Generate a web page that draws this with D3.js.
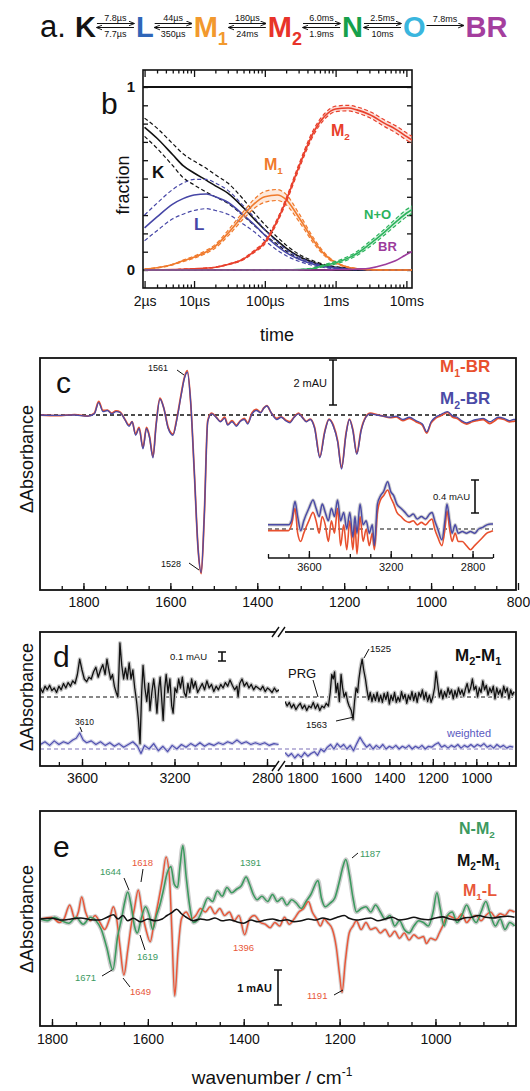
<!DOCTYPE html>
<html>
<head>
<meta charset="utf-8">
<script src="https://d3js.org/d3.v7.min.js"></script>
<style>
  body { margin: 0; background: #fff; }
  svg text { font-family: "Liberation Sans", Arial, Helvetica, sans-serif; }
</style>
</head>
<body>
<div id="fig"></div>
<script>
// ---------------- data ----------------
// panel a: kinetic scheme
const species = ["K", "L", "M1", "M2", "N", "O", "BR"];
const rateFwd = ["7.8µs", "44µs", "180µs", "6.0ms", "2.5ms", "7.8ms"];
const rateBack = ["7.7µs", "350µs", "24ms", "1.9ms", "10ms", null];

// panel b: fractions vs time (s)
const bTimes = [2e-6,3e-6,5e-6,7e-6,1e-5,1.5e-5,2e-5,3e-5,5e-5,7e-5,1e-4,1.5e-4,2e-4,3e-4,5e-4,7e-4,1e-3,1.5e-3,2e-3,3e-3,5e-3,7e-3,1e-2,1.2e-2];
const bK    = [0.78,0.72,0.63,0.57,0.53,0.49,0.46,0.42,0.34,0.28,0.22,0.16,0.12,0.075,0.04,0.025,0.015,0.008,0.004,0.002,0,0,0,0];
const bKerr = [0.05,0.055,0.06,0.065,0.065,0.065,0.06,0.055,0.045,0.035,0.028,0.02,0.016,0.012,0.008,0.005,0.003,0.002,0.001,0,0,0,0,0];
const bL    = [0.23,0.29,0.36,0.39,0.41,0.415,0.40,0.37,0.30,0.25,0.19,0.13,0.095,0.06,0.03,0.018,0.01,0.005,0.003,0.001,0,0,0,0];
const bLerr = [0.07,0.075,0.08,0.085,0.085,0.08,0.075,0.065,0.05,0.04,0.03,0.022,0.017,0.012,0.007,0.005,0.003,0.002,0.001,0,0,0,0,0];
const bM1   = [0.005,0.012,0.03,0.05,0.07,0.10,0.13,0.20,0.30,0.36,0.40,0.41,0.385,0.29,0.155,0.085,0.04,0.015,0.007,0.002,0,0,0,0];
const bM1err= [0,0.001,0.002,0.004,0.006,0.008,0.01,0.015,0.02,0.025,0.03,0.03,0.028,0.022,0.014,0.008,0.004,0.002,0.001,0,0,0,0,0];
const bM2   = [0,0.001,0.002,0.004,0.006,0.01,0.015,0.03,0.06,0.10,0.15,0.27,0.38,0.56,0.76,0.84,0.88,0.885,0.875,0.85,0.80,0.77,0.73,0.71];
const bM2err= [0,0,0,0,0,0,0.001,0.002,0.004,0.006,0.008,0.01,0.012,0.014,0.015,0.015,0.015,0.015,0.016,0.017,0.018,0.019,0.02,0.02];
const bNO   = [0,0,0,0,0,0,0,0,0,0,0,0,0,0.002,0.01,0.025,0.04,0.065,0.09,0.14,0.21,0.26,0.31,0.33];
const bNOerr= [0,0,0,0,0,0,0,0,0,0,0,0,0,0.001,0.003,0.005,0.007,0.009,0.011,0.014,0.016,0.018,0.02,0.02];
const bBR   = [0,0,0,0,0,0,0,0,0,0,0,0,0,0,0,0,0.001,0.002,0.005,0.01,0.03,0.05,0.085,0.10];
const bTickVals = [2e-6, 1e-5, 1e-4, 1e-3, 1e-2];
const bTickText = ["2µs", "10µs", "100µs", "1ms", "10ms"];

// panel c: difference spectra (mAU)
const cWn = [1900,1860,1820,1790,1775,1765,1755,1745,1735,1725,1715,1705,1695,1688,1680,1672,1663,1655,1648,1640,1633,1624,1615,1605,1594,1585,1575,1568,1561,1553,1545,1536,1529,1522,1514,1505,1495,1485,1475,1468,1458,1448,1440,1430,1422,1412,1402,1392,1385,1378,1368,1355,1345,1335,1325,1315,1305,1297,1287,1278,1268,1256,1245,1235,1225,1215,1206,1196,1188,1180,1171,1161,1150,1140,1125,1110,1095,1080,1065,1050,1035,1020,1010,1000,990,980,970,962,950,940,930,918,905,895,880,865,855,845,832,820,810,800];
const cM2BR = [0,-0.02,0,-0.05,0.05,0.55,0.15,0.2,0.05,0.15,0.1,-0.2,-0.5,-0.3,-0.9,-0.6,-1.5,-0.6,-1.0,-1.9,-0.5,0.7,0.3,-0.6,-0.9,-0.2,0.9,1.6,1.9,0.5,-2.5,-6.0,-7.0,-4.5,-0.3,0.05,-0.1,-0.3,-0.15,-0.45,-0.3,-0.5,-0.3,-0.2,-0.4,0.05,0.2,0.1,0.3,0.4,0.1,-0.2,-0.1,-0.25,-0.35,-0.1,0.05,-0.1,-0.3,-0.2,-0.6,-1.9,-0.8,-0.2,-0.5,-1.2,-2.4,-0.9,-0.2,-0.7,-1.75,-0.7,-0.1,0.05,0,-0.05,-0.1,-0.05,-0.2,-0.1,-0.25,-0.4,-0.75,-0.3,-0.1,0,0.1,0.15,-0.05,-0.1,-0.25,-0.35,-0.25,-0.2,-0.15,-0.3,-0.2,-0.1,-0.15,-0.25,-0.2,-0.2];
const cM1BR = [0,-0.03,0.02,-0.05,0.08,0.6,0.2,0.22,0.08,0.18,0.12,-0.18,-0.45,-0.3,-0.85,-0.55,-1.45,-0.55,-0.95,-1.85,-0.45,0.75,0.3,-0.55,-0.85,-0.15,0.95,1.65,1.97,0.5,-2.5,-6.0,-7.05,-4.5,-0.25,0.08,-0.08,-0.28,-0.1,-0.42,-0.25,-0.45,-0.28,-0.15,-0.35,0.1,0.25,0.12,0.32,0.42,0.1,-0.15,-0.08,-0.22,-0.3,-0.08,0.08,-0.08,-0.28,-0.18,-0.55,-1.85,-0.75,-0.18,-0.45,-1.15,-2.35,-0.85,-0.18,-0.65,-1.7,-0.65,-0.08,0.08,0.02,-0.05,-0.12,-0.08,-0.25,-0.15,-0.3,-0.45,-0.8,-0.35,-0.15,-0.05,0.05,0.12,-0.1,-0.15,-0.3,-0.4,-0.3,-0.25,-0.2,-0.38,-0.28,-0.15,-0.2,-0.3,-0.28,-0.25];
const cInsetWn = [3800,3750,3700,3685,3668,3655,3640,3625,3600,3580,3565,3550,3535,3520,3505,3490,3475,3460,3445,3430,3415,3400,3385,3375,3365,3350,3335,3320,3305,3290,3280,3265,3250,3235,3215,3200,3185,3170,3150,3130,3110,3090,3070,3050,3030,3010,2998,2985,2970,2950,2935,2925,2912,2900,2885,2870,2850,2830,2810,2790,2770,2750,2730,2710,2700];
const cInsetM2BR = [0.05,0.05,0.05,0.1,0.33,0.15,-0.02,0.1,0.25,0.35,0.25,0.15,0.3,0.2,0.1,0.25,0.15,0.35,0.1,0.2,0,0.2,-0.1,0.15,-0.05,0.3,0.05,0.1,-0.05,0.05,-0.2,0.3,0.4,0.45,0.57,0.45,0.4,0.3,0.25,0.2,0.15,0.18,0.12,0.15,0.12,0.18,0.2,0.1,0,-0.13,0.1,0.3,0.1,-0.05,0.05,-0.05,-0.03,-0.05,-0.03,-0.05,0,0.02,0.05,0.06,0.06];
const cInsetM1BR = [-0.02,-0.02,-0.02,0.05,0.25,-0.05,-0.15,-0.05,0.1,0.2,0.1,-0.05,0.15,0.05,-0.15,0.1,-0.05,0.25,-0.2,0.05,-0.25,0.1,-0.25,0.05,-0.3,0.15,-0.15,0,-0.2,-0.05,-0.25,0.2,0.35,0.4,0.47,0.38,0.3,0.2,0.15,0.1,0.08,0.1,0.05,0.08,0.05,0.1,0.12,0,-0.1,-0.2,0,0.22,0,-0.15,-0.05,-0.15,-0.15,-0.2,-0.25,-0.2,-0.15,-0.1,-0.05,-0.03,-0.02];

// panel d: M2-M1 (mAU), [wavenumber, value]
const dLeftBlack = [[3780,0.10],[3770,0.05],[3760,0.12],[3750,0.08],[3740,0.13],[3730,0.07],[3720,0.1],[3710,0.05],[3700,0.12],[3690,0.08],[3680,0.15],[3670,0.1],[3660,0.16],[3650,0.12],[3640,0.18],[3630,0.15],[3620,0.25],[3610,0.42],[3600,0.3],[3590,0.2],[3580,0.17],[3570,0.22],[3560,0.2],[3550,0.28],[3540,0.33],[3530,0.22],[3520,0.3],[3510,0.36],[3500,0.25],[3492,0.42],[3484,0.3],[3476,0.2],[3468,0.25],[3460,0.12],[3452,0.05],[3445,0],[3440,0.3],[3436,0.6],[3428,0.35],[3420,0.2],[3412,0.32],[3404,0.2],[3396,0.38],[3388,0.2],[3380,0.3],[3372,0.1],[3364,-0.05],[3356,-0.25],[3349,-0.52],[3342,0.05],[3336,0.35],[3328,0.1],[3320,-0.05],[3312,0.15],[3306,-0.15],[3298,0.05],[3290,0.2],[3284,0.08],[3276,-0.18],[3268,0.1],[3262,0.22],[3256,0],[3249,-0.26],[3242,0.1],[3236,0.25],[3228,0.05],[3220,0.2],[3212,-0.1],[3206,-0.18],[3198,0.1],[3190,0.05],[3182,0.2],[3174,0.1],[3166,0.22],[3158,0.05],[3150,0],[3142,0.15],[3134,0.05],[3126,0.2],[3118,0.1],[3110,0.17],[3100,0.05],[3090,0.1],[3080,0.15],[3070,0.08],[3060,0.18],[3050,0.1],[3040,0.14],[3030,0.06],[3020,0.12],[3010,0.08],[3000,0.14],[2990,0.1],[2980,0.16],[2970,0.12],[2960,0.19],[2950,0.13],[2940,0.08],[2930,0.12],[2925,0],[2918,0.15],[2908,0.2],[2898,0.12],[2888,0.16],[2878,0.1],[2868,0.14],[2858,0.08],[2848,0.12],[2838,0.1],[2828,0.08],[2818,0.12],[2808,0.06],[2798,0.1],[2788,0.08],[2778,0.05],[2768,0.1],[2758,0.06],[2748,0.08]];
const dLeftBlue = [[3780,0.05],[3760,0.08],[3740,0.04],[3720,0.09],[3700,0.05],[3680,0.08],[3660,0.06],[3640,0.1],[3625,0.12],[3610,0.18],[3595,0.1],[3580,0.07],[3560,0.09],[3540,0.05],[3520,0.08],[3500,0.04],[3480,0.07],[3460,0.03],[3440,0.06],[3420,0.02],[3400,0.05],[3380,0.08],[3360,0.03],[3345,-0.05],[3330,0.04],[3310,0],[3290,0.06],[3270,-0.02],[3250,0.03],[3230,-0.03],[3210,0.04],[3190,0],[3170,0.05],[3150,0.02],[3130,0.06],[3110,0.03],[3090,0.07],[3070,0.03],[3050,0.06],[3030,0.04],[3010,0.07],[2990,0.05],[2970,0.08],[2950,0.06],[2930,0.1],[2910,0.06],[2890,0.08],[2870,0.05],[2850,0.07],[2830,0.05],[2810,0.07],[2790,0.04],[2770,0.06],[2750,0.05]];
const dRightBlack = [[1880,-0.05],[1870,-0.1],[1860,-0.06],[1850,-0.12],[1840,-0.08],[1830,-0.14],[1820,-0.1],[1810,-0.07],[1800,-0.13],[1790,-0.09],[1780,-0.15],[1770,-0.1],[1760,-0.12],[1750,-0.06],[1740,-0.13],[1730,-0.08],[1720,-0.15],[1710,-0.1],[1700,-0.12],[1690,-0.07],[1680,-0.1],[1672,0.05],[1665,0.25],[1658,0.2],[1652,0.28],[1645,0.05],[1638,0.15],[1630,-0.05],[1622,0.25],[1615,0.1],[1608,0],[1600,0.05],[1592,-0.05],[1585,-0.1],[1575,-0.15],[1567,-0.25],[1560,-0.05],[1553,0.1],[1546,0.05],[1540,0.2],[1533,0.32],[1525,0.42],[1518,0.3],[1510,0.2],[1503,0.08],[1495,-0.03],[1488,0.05],[1480,-0.05],[1472,0.03],[1464,-0.04],[1456,0.05],[1448,-0.05],[1440,0.02],[1432,-0.06],[1424,0.04],[1416,-0.03],[1408,0.05],[1400,-0.08],[1392,0.02],[1384,-0.04],[1376,0.05],[1368,-0.06],[1360,0],[1352,-0.05],[1344,0.06],[1336,-0.02],[1328,0.03],[1320,-0.07],[1312,0.02],[1304,-0.03],[1296,0.06],[1288,-0.04],[1280,0.04],[1272,-0.06],[1264,0.05],[1256,0],[1248,0.08],[1240,-0.03],[1232,0.05],[1224,-0.05],[1216,0.02],[1208,-0.06],[1200,0],[1192,0.1],[1185,0.28],[1178,0.15],[1170,0],[1162,0.08],[1154,-0.02],[1146,0.06],[1138,0],[1130,0.1],[1122,0.03],[1114,0.08],[1106,-0.02],[1098,0.07],[1090,0],[1082,0.1],[1074,0.03],[1066,0.08],[1058,0.01],[1050,0.09],[1042,0.15],[1034,0.05],[1026,0.1],[1018,0.2],[1010,0.08],[1002,0.12],[994,0],[986,0.1],[978,0.05],[970,0.18],[962,0.08],[954,0.13],[946,0.02],[938,0.1],[930,0.05],[922,0.12],[914,-0.02],[906,0.1],[898,0.03],[890,0.08],[882,0],[874,0.12],[866,0.05],[858,0.1],[850,-0.02],[842,0.08],[834,0.02],[826,0.06]];
const dRightBlue = [[1880,-0.04],[1865,-0.08],[1850,-0.05],[1835,-0.1],[1820,-0.06],[1805,-0.09],[1790,-0.04],[1775,-0.08],[1760,-0.05],[1745,-0.03],[1730,-0.07],[1715,0],[1700,-0.03],[1685,0.02],[1670,0.05],[1655,0],[1640,0.06],[1625,0.02],[1610,0.05],[1595,0],[1580,0.04],[1565,-0.02],[1550,0.06],[1535,0.13],[1520,0.07],[1505,0.02],[1490,0.05],[1475,0],[1460,0.04],[1445,0.01],[1430,0.05],[1415,0],[1400,0.03],[1385,0.01],[1370,0.04],[1355,0],[1340,0.03],[1325,0.01],[1310,0.04],[1295,0],[1280,0.03],[1265,0.01],[1250,0.04],[1235,0],[1220,0.03],[1205,0.02],[1190,0.05],[1175,0.07],[1160,0.02],[1145,0.04],[1130,0.01],[1115,0.04],[1100,0.02],[1085,0.05],[1070,0.01],[1055,0.04],[1040,0.02],[1025,0.05],[1010,0.02],[995,0.05],[980,0.03],[965,0.06],[950,0.02],[935,0.04],[920,0.01],[905,0.05],[890,0.02],[875,0.04],[860,0.01],[845,0.03],[830,0.02]];

// panel e: (mAU), [wavenumber, value]
const eNM2 = [[1825,0],[1810,-0.05],[1795,0.05],[1780,-0.05],[1765,-0.12],[1750,0.05],[1735,-0.15],[1720,0.05],[1708,-0.05],[1697,-0.3],[1686,-0.8],[1673,-1.45],[1663,-0.5],[1655,0],[1648,0.5],[1642,0.77],[1635,0.4],[1628,-0.2],[1622,-0.4],[1614,0],[1605,0.35],[1597,0.1],[1590,-0.3],[1582,0.1],[1575,0.4],[1568,0.8],[1560,1.3],[1552,1.5],[1545,1.0],[1538,0.9],[1533,1.5],[1527,2.1],[1520,1.2],[1513,0.4],[1505,-0.1],[1495,0],[1485,0.3],[1475,0.6],[1465,0.5],[1455,0.8],[1445,0.65],[1435,0.9],[1425,0.75],[1415,0.85],[1405,0.95],[1395,1.2],[1388,1.0],[1380,0.7],[1372,0.55],[1362,0.65],[1350,0.5],[1340,0.7],[1330,0.5],[1320,0.6],[1310,0.4],[1300,0.55],[1290,0.45],[1280,0.3],[1270,0.5],[1260,0.7],[1245,1.1],[1238,0.6],[1230,0.35],[1220,0.45],[1210,0.6],[1200,1.1],[1193,1.5],[1187,1.7],[1180,1.3],[1172,0.6],[1165,0.2],[1155,0.3],[1145,0.35],[1135,0.2],[1125,0.4],[1115,0.2],[1105,0],[1095,0.1],[1085,-0.2],[1075,-0.05],[1065,-0.3],[1055,-0.4],[1045,-0.2],[1035,-0.05],[1025,-0.1],[1015,-0.2],[1005,0.2],[997,0.75],[990,0.3],[982,-0.2],[975,0.1],[965,0.2],[955,-0.1],[945,0.1],[935,0.4],[925,0.1],[915,-0.1],[905,0.2],[895,0.5],[885,0.1],[875,-0.2],[865,0],[855,-0.3],[845,-0.1],[835,-0.2]];
const eM1L = [[1825,0],[1800,0.05],[1785,-0.1],[1775,0],[1763,0.4],[1752,0],[1745,0.2],[1738,0.63],[1730,0.2],[1720,-0.05],[1710,0.1],[1700,-0.1],[1690,-0.3],[1680,0],[1672,0.35],[1665,0],[1658,-0.8],[1650,-1.6],[1642,-0.9],[1635,-0.2],[1628,0.3],[1620,0.83],[1612,0.2],[1604,-0.3],[1595,-0.65],[1588,-0.2],[1578,0.5],[1570,1.1],[1562,1.77],[1555,1.2],[1550,-0.3],[1544,-2.2],[1537,-0.9],[1530,0],[1520,0.2],[1510,0],[1500,0.1],[1490,0.3],[1480,0.2],[1470,0.35],[1460,0.15],[1450,0.3],[1440,0.1],[1430,0.2],[1420,-0.05],[1410,0.1],[1398,-0.45],[1388,0],[1378,0.1],[1365,-0.1],[1355,-0.15],[1345,-0.25],[1335,-0.1],[1325,-0.2],[1315,0.05],[1305,-0.15],[1295,0],[1285,0.2],[1275,0.3],[1265,0.5],[1257,0.2],[1248,0],[1240,-0.2],[1232,0],[1225,-0.1],[1215,-0.3],[1207,-0.8],[1200,-1.6],[1195,-2.1],[1188,-1.2],[1180,-0.4],[1172,-0.2],[1165,-0.05],[1155,-0.3],[1145,-0.1],[1135,-0.3],[1125,-0.25],[1115,-0.4],[1105,-0.3],[1095,-0.5],[1085,-0.35],[1075,-0.55],[1065,-0.4],[1055,-0.6],[1045,-0.45],[1035,-0.55],[1025,-0.5],[1019,-0.7],[1010,-0.55],[1000,-0.6],[992,-0.4],[985,-0.2],[975,0.1],[965,0.05],[955,0],[945,0.15],[935,-0.1],[925,0.05],[915,0.1],[905,-0.05],[895,0.1],[885,0.2],[875,0.05],[865,0.15],[855,0.1],[845,0.25],[835,0.2]];
const eM2M1 = [[1825,0],[1800,0.02],[1780,-0.03],[1760,0],[1740,0.03],[1720,-0.02],[1700,-0.03],[1685,0.05],[1672,0.12],[1662,0],[1652,0.1],[1642,-0.05],[1630,0.02],[1615,-0.08],[1600,0],[1585,-0.05],[1570,0],[1560,0.1],[1550,0.18],[1540,0.28],[1530,0.15],[1520,0.05],[1505,-0.05],[1490,0],[1475,-0.03],[1460,0.03],[1445,-0.05],[1430,-0.02],[1415,-0.08],[1400,-0.12],[1385,-0.03],[1370,-0.08],[1355,-0.03],[1340,0],[1325,-0.05],[1310,-0.02],[1295,-0.08],[1280,-0.05],[1265,0],[1250,-0.03],[1235,0.03],[1220,-0.02],[1205,0.05],[1190,0.1],[1180,0.02],[1165,-0.03],[1150,0],[1135,0.03],[1120,-0.05],[1105,0],[1090,0.05],[1075,-0.03],[1060,0],[1045,0.05],[1030,0],[1015,-0.02],[1000,0.03],[985,0.06],[970,0],[955,-0.03],[940,0.03],[925,0.05],[910,0.1],[895,0.05],[880,0.03],[865,0.06],[850,0.08],[835,0.05]];

// ---------------- drawing ----------------
const W = 530, H = 1091;
const svg = d3.select("#fig").append("svg").attr("width", W).attr("height", H);
const INK = "#111";
const fmtInt = d3.format("d");

function txt(g, x, y, s, size, opts = {}) {
  const t = g.append("text").attr("x", x).attr("y", y).attr("font-size", size)
    .attr("fill", opts.fill || INK).attr("text-anchor", opts.anchor || "start")
    .attr("font-weight", opts.bold ? "bold" : "normal");
  if (opts.rotate) t.attr("transform", `rotate(${opts.rotate},${x},${y})`);
  t.text(s);
  return t;
}
// text like "M2-BR" with subscript digit
function subTxt(g, x, y, main, sub, rest, size, fill, bold = true) {
  const t = g.append("text").attr("x", x).attr("y", y).attr("font-size", size)
    .attr("fill", fill).attr("font-weight", bold ? "bold" : "normal");
  t.append("tspan").text(main);
  t.append("tspan").attr("font-size", size * 0.62).attr("dy", size * 0.28).text(sub);
  if (rest) t.append("tspan").attr("dy", -size * 0.28).text(rest);
  return t;
}
function frame(g, x0, y0, x1, y1, w = 1.8) {
  g.append("rect").attr("x", x0).attr("y", y0).attr("width", x1 - x0).attr("height", y1 - y0)
    .attr("fill", "none").attr("stroke", INK).attr("stroke-width", w);
}
function styleAxis(a, size = 13) {
  a.select(".domain").remove();
  a.selectAll("line").attr("stroke", INK).attr("stroke-width", 1.3);
  a.selectAll("text").attr("font-size", size).attr("fill", INK)
    .style("font-family", '"Liberation Sans", Arial, sans-serif');
  return a;
}
function scaleBar(g, x, y0, y1) {
  g.append("path").attr("d", `M${x - 4},${y0}H${x + 4}M${x},${y0}V${y1}M${x - 4},${y1}H${x + 4}`)
    .attr("stroke", INK).attr("stroke-width", 1.6).attr("fill", "none");
}
function leader(g, x0, y0, x1, y1) {
  g.append("line").attr("x1", x0).attr("y1", y0).attr("x2", x1).attr("y2", y1)
    .attr("stroke", INK).attr("stroke-width", 1);
}
function clip(id, x0, y0, x1, y1) {
  svg.append("clipPath").attr("id", id).append("rect")
    .attr("x", x0).attr("y", y0).attr("width", x1 - x0).attr("height", y1 - y0);
}
function spec(g, pts, x, y, color, width, curve, clipId) {
  return g.append("path").datum(pts)
    .attr("d", d3.line().x(d => x(d[0])).y(d => y(d[1])).curve(curve || d3.curveMonotoneX))
    .attr("fill", "none").attr("stroke", color).attr("stroke-width", width)
    .attr("stroke-linejoin", "round").attr("clip-path", clipId ? `url(#${clipId})` : null);
}
const zip = (a, b) => a.map((v, i) => [v, b[i]]);

// ===== panel a =====
const ga = svg.append("g");
const spColors = { K: "#141414", L: "#2f66b8", M1: "#f2992e", M2: "#e8332a", N: "#16a04b", O: "#3ab6de", BR: "#a43e9e" };
svg.append("defs").append("marker").attr("id", "ah").attr("viewBox", "0 0 10 10")
  .attr("refX", 9).attr("refY", 5).attr("markerWidth", 6).attr("markerHeight", 6).attr("orient", "auto-start-reverse")
  .append("path").attr("d", "M0,1L10,5L0,9").attr("fill", "none").attr("stroke", INK).attr("stroke-width", 1.6);
txt(ga, 40, 37, "a.", 31);
let ax = 75;
species.forEach((s, i) => {
  const main = s.replace(/\d/, ""), sub = (s.match(/\d/) || [""])[0];
  const t = sub ? subTxt(ga, ax, 37, main, sub, null, 29, spColors[s]) : txt(ga, ax, 37, main, 29, { fill: spColors[s], bold: true });
  ax += t.node().getComputedTextLength() + 1;
  if (i < rateFwd.length) {
    const x0 = ax, x1 = ax + 37;
    if (rateBack[i]) {
      ga.append("line").attr("x1", x0).attr("x2", x1).attr("y1", 23.5).attr("y2", 23.5).attr("stroke", INK).attr("stroke-width", 1).attr("marker-end", "url(#ah)");
      ga.append("line").attr("x1", x0).attr("x2", x1).attr("y1", 27.5).attr("y2", 27.5).attr("stroke", INK).attr("stroke-width", 1).attr("marker-start", "url(#ah)");
      txt(ga, (x0 + x1) / 2, 21, rateFwd[i], 9, { anchor: "middle" });
      txt(ga, (x0 + x1) / 2, 37, rateBack[i], 9, { anchor: "middle" });
    } else {
      ga.append("line").attr("x1", x0).attr("x2", x1).attr("y1", 25.5).attr("y2", 25.5).attr("stroke", INK).attr("stroke-width", 1).attr("marker-end", "url(#ah)");
      txt(ga, (x0 + x1) / 2, 22, rateFwd[i], 9, { anchor: "middle" });
    }
    ax = x1 + 2;
  }
});

// ===== panel b =====
const gb = svg.append("g");
const xb = d3.scaleLog().domain([1.9e-6, 1.2e-2]).range([143, 412]);
const yb = d3.scaleLinear().domain([0, 1]).range([270, 87]);
clip("clipb", 143, 70, 412, 288);
const minorB = xb.ticks().filter(t => !bTickVals.some(v => Math.abs(v - t) / v < 1e-6));
styleAxis(gb.append("g").attr("transform", "translate(0,288)").call(d3.axisBottom(xb).tickValues(minorB).tickSize(-3.5).tickFormat("")));
styleAxis(gb.append("g").attr("transform", "translate(0,288)").call(d3.axisBottom(xb).tickValues(bTickVals).tickSize(-7).tickPadding(8).tickFormat((d, i) => bTickText[i])), 14);
styleAxis(gb.append("g").attr("transform", "translate(0,70)").call(d3.axisTop(xb).tickValues(minorB).tickSize(-3.5).tickFormat("")));
styleAxis(gb.append("g").attr("transform", "translate(0,70)").call(d3.axisTop(xb).tickValues(bTickVals).tickSize(-7).tickFormat("")));
const yTicksB = d3.range(0, 11).map(i => i / 10);
styleAxis(gb.append("g").attr("transform", "translate(143,0)").call(d3.axisLeft(yb).tickValues(yTicksB).tickSize(-5).tickPadding(8)
  .tickFormat(d => (d === 0 ? "0" : d === 1 ? "1" : ""))), 15).selectAll("text").attr("font-weight", "bold");
styleAxis(gb.append("g").attr("transform", "translate(412,0)").call(d3.axisRight(yb).tickValues(yTicksB).tickSize(-5).tickFormat("")));
frame(gb, 143, 70, 412, 288, 1.6);
[0, 1].forEach(v => gb.append("line").attr("x1", 143).attr("x2", 412).attr("y1", yb(v)).attr("y2", yb(v)).attr("stroke", INK).attr("stroke-width", 1.8));

function kinetic(vals, errs, color, fill) {
  const pts = bTimes.map((t, i) => ({ t, v: vals[i], e: errs ? errs[i] : 0 }));
  const g = gb.append("g").attr("clip-path", "url(#clipb)");
  if (errs) {
    if (fill) g.append("path").datum(pts).attr("d", d3.area().x(d => xb(d.t)).y0(d => yb(d.v - d.e)).y1(d => yb(d.v + d.e)).curve(d3.curveMonotoneX))
      .attr("fill", fill).attr("opacity", 0.35);
    [1, -1].forEach(sg => g.append("path").datum(pts)
      .attr("d", d3.line().x(d => xb(d.t)).y(d => yb(d.v + sg * d.e)).curve(d3.curveMonotoneX))
      .attr("fill", "none").attr("stroke", color).attr("stroke-width", 1.2).attr("stroke-dasharray", "4,2.5"));
  }
  g.append("path").datum(pts).attr("d", d3.line().x(d => xb(d.t)).y(d => yb(d.v)).curve(d3.curveMonotoneX))
    .attr("fill", "none").attr("stroke", color).attr("stroke-width", 1.6);
}
kinetic(bK, bKerr, "#111");
kinetic(bL, bLerr, "#4646a6");
kinetic(bM1, bM1err, "#f07a2c", "#f8c09a");
kinetic(bM2, bM2err, "#e8402c", "#f5a090");
kinetic(bNO, bNOerr, "#2cb35c", "#9be0b4");
kinetic(bBR, null, "#9c3c9c");

txt(gb, 101, 114, "b", 30);
txt(gb, 129, 185, "fraction", 18, { anchor: "middle", rotate: -90 });
txt(gb, 277, 341, "time", 18, { anchor: "middle" });
txt(gb, 152, 178, "K", 17, { bold: true });
txt(gb, 194, 230, "L", 17, { fill: "#4646a6", bold: true });
subTxt(gb, 264, 170, "M", "1", null, 16, "#f07a2c");
subTxt(gb, 331, 136, "M", "2", null, 16, "#e8402c");
txt(gb, 364, 219, "N+O", 13, { fill: "#2cb35c", bold: true });
txt(gb, 378, 251, "BR", 13, { fill: "#9c3c9c", bold: true });

// ===== panel c =====
const gc = svg.append("g");
const xc = d3.scaleLinear().domain([1900, 800]).range([40, 518]);
const yc = d3.scaleLinear().domain([0, 1]).range([415, 392.5]);
clip("clipc", 40, 358, 516, 590);
gc.append("line").attr("x1", 40).attr("x2", 516).attr("y1", yc(0)).attr("y2", yc(0))
  .attr("stroke", INK).attr("stroke-width", 1.3).attr("stroke-dasharray", "4,3");
spec(gc, zip(cWn, cM1BR), xc, yc, "#e8502e", 1.8, null, "clipc");
spec(gc, zip(cWn, cM2BR), xc, yc, "#4b4ba6", 1.3, null, "clipc");
styleAxis(gc.append("g").attr("transform", "translate(0,590)").call(d3.axisBottom(xc).tickValues(d3.range(1850, 849, -50)).tickSize(-4).tickFormat("")));
styleAxis(gc.append("g").attr("transform", "translate(0,590)").call(d3.axisBottom(xc).tickValues(d3.range(1800, 799, -200)).tickSize(-7).tickPadding(7).tickFormat(fmtInt)), 14);
frame(gc, 40, 358, 516, 590);
// inset
const xi = d3.scaleLinear().domain([3800, 2700]).range([268, 493]);
const yi = d3.scaleLinear().domain([0, 1]).range([529, 446]);
gc.append("line").attr("x1", 268).attr("x2", 493).attr("y1", yi(0)).attr("y2", yi(0))
  .attr("stroke", INK).attr("stroke-width", 1.2).attr("stroke-dasharray", "4,3");
spec(gc, zip(cInsetWn, cInsetM2BR), xi, yi, "#d2d2d2", 3.5);
spec(gc, zip(cInsetWn, cInsetM1BR), xi, yi, "#e8502e", 1.6);
spec(gc, zip(cInsetWn, cInsetM2BR), xi, yi, "#4b4ba6", 1.5);
gc.append("line").attr("x1", 268).attr("x2", 493).attr("y1", 558).attr("y2", 558).attr("stroke", INK).attr("stroke-width", 1.5);
styleAxis(gc.append("g").attr("transform", "translate(0,558)").call(d3.axisBottom(xi).tickValues(d3.range(3800, 2699, -100)).tickSize(-4).tickFormat("")));
styleAxis(gc.append("g").attr("transform", "translate(0,558)").call(d3.axisBottom(xi).tickValues([3600, 3200, 2800]).tickSize(-7).tickPadding(5).tickFormat(fmtInt)), 11);
scaleBar(gc, 475, 480, 513);
txt(gc, 470, 500, "0.4 mAU", 9.5, { anchor: "end" });
scaleBar(gc, 333, 360, 405);
txt(gc, 327, 387, "2 mAU", 11, { anchor: "end" });
subTxt(gc, 440, 372, "M", "1", "-BR", 17, "#e8502e");
subTxt(gc, 440, 404, "M", "2", "-BR", 17, "#4b4ba6");
txt(gc, 56, 393, "c", 30);
txt(gc, 148, 371, "1561", 9, {});
leader(gc, 177, 370, 184, 375);
txt(gc, 161, 567, "1528", 9, {});
leader(gc, 189, 563, 199, 570);
txt(gc, 33, 459, "ΔAbsorbance", 18, { anchor: "middle", rotate: -90 });

// ===== panel d =====
const gd = svg.append("g");
const xdl = d3.scaleLinear().domain([3600, 2800]).range([82, 267]);
const xdr = d3.scaleLinear().domain([1880, 822]).range([285, 515]);
const ydk = d3.scaleLinear().domain([0, 1]).range([697, 607]);
const ydb = d3.scaleLinear().domain([0, 1]).range([749, 659]);
clip("clipdl", 40, 632, 279, 766);
clip("clipdr", 285, 632, 516, 766);
gd.append("line").attr("x1", 40).attr("x2", 516).attr("y1", 697).attr("y2", 697).attr("stroke", INK).attr("stroke-width", 1.2).attr("stroke-dasharray", "4,3");
gd.append("line").attr("x1", 40).attr("x2", 516).attr("y1", 749).attr("y2", 749).attr("stroke", "#7c70b8").attr("stroke-width", 1.2).attr("stroke-dasharray", "4,3");
[[dLeftBlack, dLeftBlue, xdl, "clipdl"], [dRightBlack, dRightBlue, xdr, "clipdr"]].forEach(([k, b, x, c]) => {
  spec(gd, k, x, ydk, "#c6c6c6", 4, d3.curveLinear, c);
  spec(gd, b, x, ydb, "#cfcfe6", 3.5, d3.curveLinear, c);
  spec(gd, b, x, ydb, "#5050b0", 1.2, d3.curveLinear, c);
  spec(gd, k, x, ydk, "#111", 1.3, d3.curveLinear, c);
});
styleAxis(gd.append("g").attr("transform", "translate(0,766)").call(d3.axisBottom(xdl).tickValues(d3.range(3700, 2799, -100)).tickSize(-4).tickFormat("")));
styleAxis(gd.append("g").attr("transform", "translate(0,766)").call(d3.axisBottom(xdl).tickValues([3600, 3200, 2800]).tickSize(-7).tickPadding(7).tickFormat(fmtInt)), 14);
styleAxis(gd.append("g").attr("transform", "translate(0,766)").call(d3.axisBottom(xdr).tickValues(d3.range(1850, 849, -50)).tickSize(-4).tickFormat("")));
styleAxis(gd.append("g").attr("transform", "translate(0,766)").call(d3.axisBottom(xdr).tickValues(d3.range(1800, 999, -200)).tickSize(-7).tickPadding(7).tickFormat(fmtInt)), 14);
frame(gd, 40, 632, 516, 766);
// axis break
[632, 766].forEach(y => {
  gd.append("rect").attr("x", 276).attr("y", y - 3).attr("width", 9).attr("height", 6).attr("fill", "#fff");
  gd.append("path").attr("d", `M272,${y + 5}L279,${y - 5}M278,${y + 5}L285,${y - 5}`).attr("stroke", INK).attr("stroke-width", 1.4);
});
scaleBar(gd, 222, 652, 661);
txt(gd, 207, 660, "0.1 mAU", 9.5, { anchor: "end" });
txt(gd, 53, 667, "d", 30);
txt(gd, 75, 725, "3610", 8.5);
leader(gd, 80, 727, 82, 732);
txt(gd, 288, 678, "PRG", 13);
leader(gd, 313, 680, 318, 697);
txt(gd, 370, 652, "1525", 9.5);
leader(gd, 369, 649, 364, 658);
txt(gd, 306, 728, "1563", 9.5);
leader(gd, 336, 721, 354, 717);
txt(gd, 447, 737, "weighted", 11, { fill: "#5a5abf" });
const m21 = gd.append("text").attr("x", 455).attr("y", 661).attr("font-size", 17).attr("font-weight", "bold").attr("fill", INK);
m21.append("tspan").text("M"); m21.append("tspan").attr("font-size", 11).attr("dy", 4).text("2");
m21.append("tspan").attr("dy", -4).text("-M"); m21.append("tspan").attr("font-size", 11).attr("dy", 4).text("1");
txt(gd, 33, 697, "ΔAbsorbance", 18, { anchor: "middle", rotate: -90 });

// ===== panel e =====
const ge = svg.append("g");
const xe = d3.scaleLinear().domain([1825, 832]).range([40, 516]);
const ye = d3.scaleLinear().domain([0, 1]).range([919, 884]);
clip("clipe", 40, 811, 516, 1026);
spec(ge, eNM2, xe, ye, "#cdcdcd", 4.5, null, "clipe");
spec(ge, eM1L, xe, ye, "#d6d6d6", 3.5, null, "clipe");
spec(ge, eM1L, xe, ye, "#e8583a", 1.5, null, "clipe");
spec(ge, eNM2, xe, ye, "#3c9a5f", 1.6, null, "clipe");
spec(ge, eM2M1, xe, ye, "#111", 1.6, null, "clipe");
styleAxis(ge.append("g").attr("transform", "translate(0,1026)").call(d3.axisBottom(xe).tickValues(d3.range(1800, 849, -50)).tickSize(-4).tickFormat("")));
styleAxis(ge.append("g").attr("transform", "translate(0,1026)").call(d3.axisBottom(xe).tickValues(d3.range(1800, 999, -200)).tickSize(-7).tickPadding(8).tickFormat(fmtInt)), 14);
frame(ge, 40, 811, 516, 1026);
scaleBar(ge, 278, 970, 1005);
txt(ge, 272, 992, "1 mAU", 11, { anchor: "end", bold: true });
txt(ge, 53, 857, "e", 30);
const G = "#3c9a5f", R = "#e8583a";
txt(ge, 100, 875, "1644", 9.5, { fill: G }); leader(ge, 124, 878, 129, 890);
txt(ge, 132, 866, "1618", 9.5, { fill: R }); leader(ge, 143, 869, 141, 882);
txt(ge, 240, 866, "1391", 9.5, { fill: G });
txt(ge, 360, 857, "1187", 9.5, { fill: G }); leader(ge, 358, 853, 352, 858);
txt(ge, 137, 960, "1619", 9.5, { fill: G }); leader(ge, 145, 950, 140, 935);
txt(ge, 75, 981, "1671", 9.5, { fill: G }); leader(ge, 102, 976, 112, 970);
txt(ge, 130, 995, "1649", 9.5, { fill: R }); leader(ge, 130, 987, 123, 978);
txt(ge, 233, 951, "1396", 9.5, { fill: R });
txt(ge, 307, 999, "1191", 9.5, { fill: R }); leader(ge, 334, 995, 343, 990);
subTxt(ge, 459, 834, "N-M", "2", null, 16, G);
const e21 = ge.append("text").attr("x", 457).attr("y", 866).attr("font-size", 16).attr("font-weight", "bold").attr("fill", INK);
e21.append("tspan").text("M"); e21.append("tspan").attr("font-size", 10).attr("dy", 4).text("2");
e21.append("tspan").attr("dy", -4).text("-M"); e21.append("tspan").attr("font-size", 10).attr("dy", 4).text("1");
subTxt(ge, 463, 896, "M", "1", "-L", 16, R);
txt(ge, 33, 919, "ΔAbsorbance", 18, { anchor: "middle", rotate: -90 });
const wl = ge.append("text").attr("x", 272).attr("y", 1084).attr("font-size", 19).attr("text-anchor", "middle").attr("fill", INK);
wl.append("tspan").text("wavenumber / cm");
wl.append("tspan").attr("font-size", 12).attr("dy", -8).text("-1");
</script>
</body>
</html>
